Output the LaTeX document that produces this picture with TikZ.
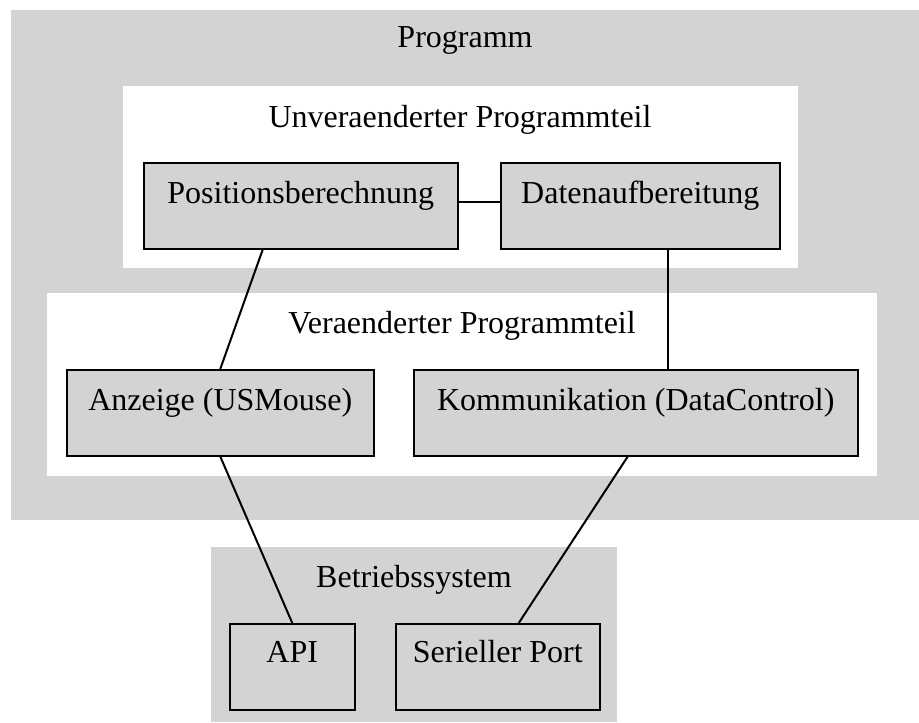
\documentclass[tikz,border=0pt]{standalone}
\usepackage{fontspec}
\setmainfont{Liberation Serif}
\definecolor{grau}{RGB}{211,211,211}
\tikzset{
    modul/.style={draw, fill=grau, line width=0.75pt, inner sep=0pt, anchor=north west,
        minimum height=43pt, text height=20.5pt, text depth=22.5pt},
    titel/.style={anchor=base},
    verbindung/.style={line width=1pt}
}

\begin{document}
\begin{tikzpicture}[x=0.5pt, y=-0.5pt, font=\fontsize{16}{19}\selectfont]
    \fill[white] (0,0) rectangle (919,722);
    \useasboundingbox (0,0) rectangle (919,722);
    \fill[grau] (11,10) rectangle (919,520);
    \fill[white] (123,86) rectangle (798,268);
    \fill[white] (47,293) rectangle (877,476);
    \fill[grau] (211,547) rectangle (617,722);
    \node[titel] (programm) at (465,48) {Programm};
    \node[titel] (unver) at (460,127) {Unveraenderter Programmteil};
    \node[titel] (ver) at (462,333) {Veraenderter Programmteil};
    \node[titel] (bs) at (414,587) {Betriebssystem};
    \node[modul, minimum width=157pt] (pos) at (143,162) {Positionsberechnung};
    \node[modul, minimum width=139.5pt] (daten) at (500,162) {Datenaufbereitung};
    \node[modul, minimum width=153.5pt] (anz) at (66,369) {Anzeige (USMouse)};
    \node[modul, minimum width=222pt] (kom) at (413,369) {Kommunikation (DataControl)};
    \node[modul, minimum width=62.5pt, text height=19.5pt, text depth=23.5pt] (api) at (229,623) {API};
    \node[modul, minimum width=102pt, text height=19.5pt, text depth=23.5pt] (ser) at (395,623) {Serieller Port};
    \draw[verbindung] ([yshift=2pt]pos.east) -- ([yshift=2pt]daten.west);
    \draw[verbindung] ([xshift=-19pt]pos.south) -- (anz.north);
    \draw[verbindung] ([xshift=14pt]daten.south) -- ([xshift=14pt]daten.south |- kom.north);
    \draw[verbindung] (anz.south) -- (api.north);
    \draw[verbindung] ([xshift=-4pt]kom.south) -- ([xshift=10.5pt]ser.north);
\end{tikzpicture}
\end{document}
